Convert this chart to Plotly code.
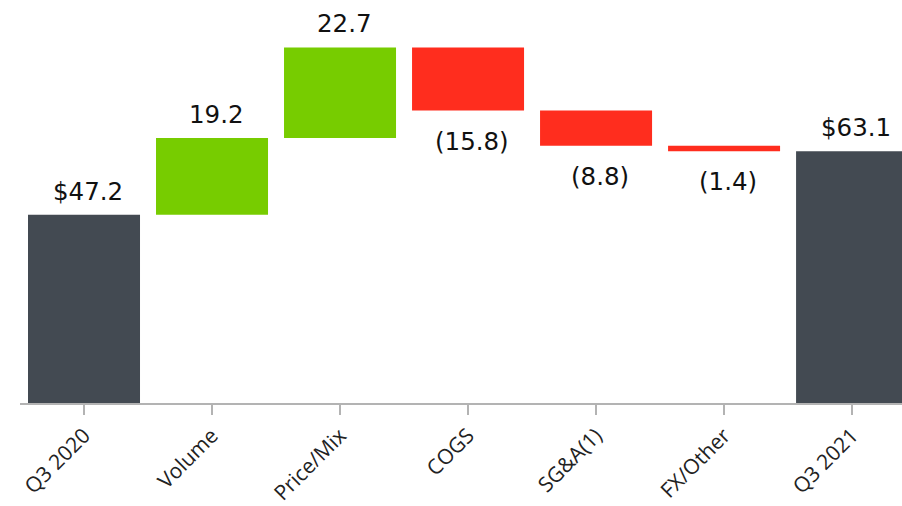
import plotly.graph_objects as go

# Bridge from Q3 2020 to Q3 2021
categories = ["Q3 2020", "Volume", "Price/Mix", "COGS", "SG&A(1)", "FX/Other", "Q3 2021"]
measures = ["absolute", "relative", "relative", "relative", "relative", "relative", "total"]
changes = [47.2, 19.2, 22.7, -15.8, -8.8, -1.4, 0]
labels = ["$47.2", "19.2", "22.7", "(15.8)", "(8.8)", "(1.4)", "$63.1"]

DARK = "#434a52"
GREEN = "#77cc00"
RED = "#ff2d1e"

fig = go.Figure(go.Waterfall(
    x=categories,
    y=changes,
    measure=measures,
    width=0.875,
    connector=dict(visible=False),
    increasing=dict(marker=dict(color=GREEN)),
    decreasing=dict(marker=dict(color=RED)),
    totals=dict(marker=dict(color=DARK)),
    textinfo="none",
    hoverinfo="skip",
))

# Value labels: above rising/total bars, below falling bars
running = 0.0
for cat, m, v, lab in zip(categories, measures, changes, labels):
    if m == "absolute":
        running = v
        y, up = running, True
    elif m == "total":
        y, up = running, True
    else:
        running += v
        y, up = running, v >= 0
    fig.add_annotation(
        x=cat, y=y, text=lab, showarrow=False,
        xshift=4,
        yanchor="bottom" if up else "top",
        yshift=7 if up else -14,
        font=dict(family="DejaVu Sans", size=24.5, color="#111111"),
    )

fig.update_layout(
    width=902, height=506,
    margin=dict(l=20, r=0, t=0, b=101),
    plot_bgcolor="white", paper_bgcolor="white",
    showlegend=False,
    xaxis=dict(
        range=[-0.5, 6.39],
        showline=True, linecolor="#b3b3b3", linewidth=2,
        ticks="outside", ticklen=10, tickwidth=2, tickcolor="#b3b3b3",
        tickangle=-45,
        tickfont=dict(family="Open Sans", size=21, color="#222222"),
        showgrid=False, zeroline=False, fixedrange=True,
    ),
    yaxis=dict(
        range=[0, 101],
        visible=False, showgrid=False, zeroline=False, fixedrange=True,
    ),
)

fig.write_html("out.html")
